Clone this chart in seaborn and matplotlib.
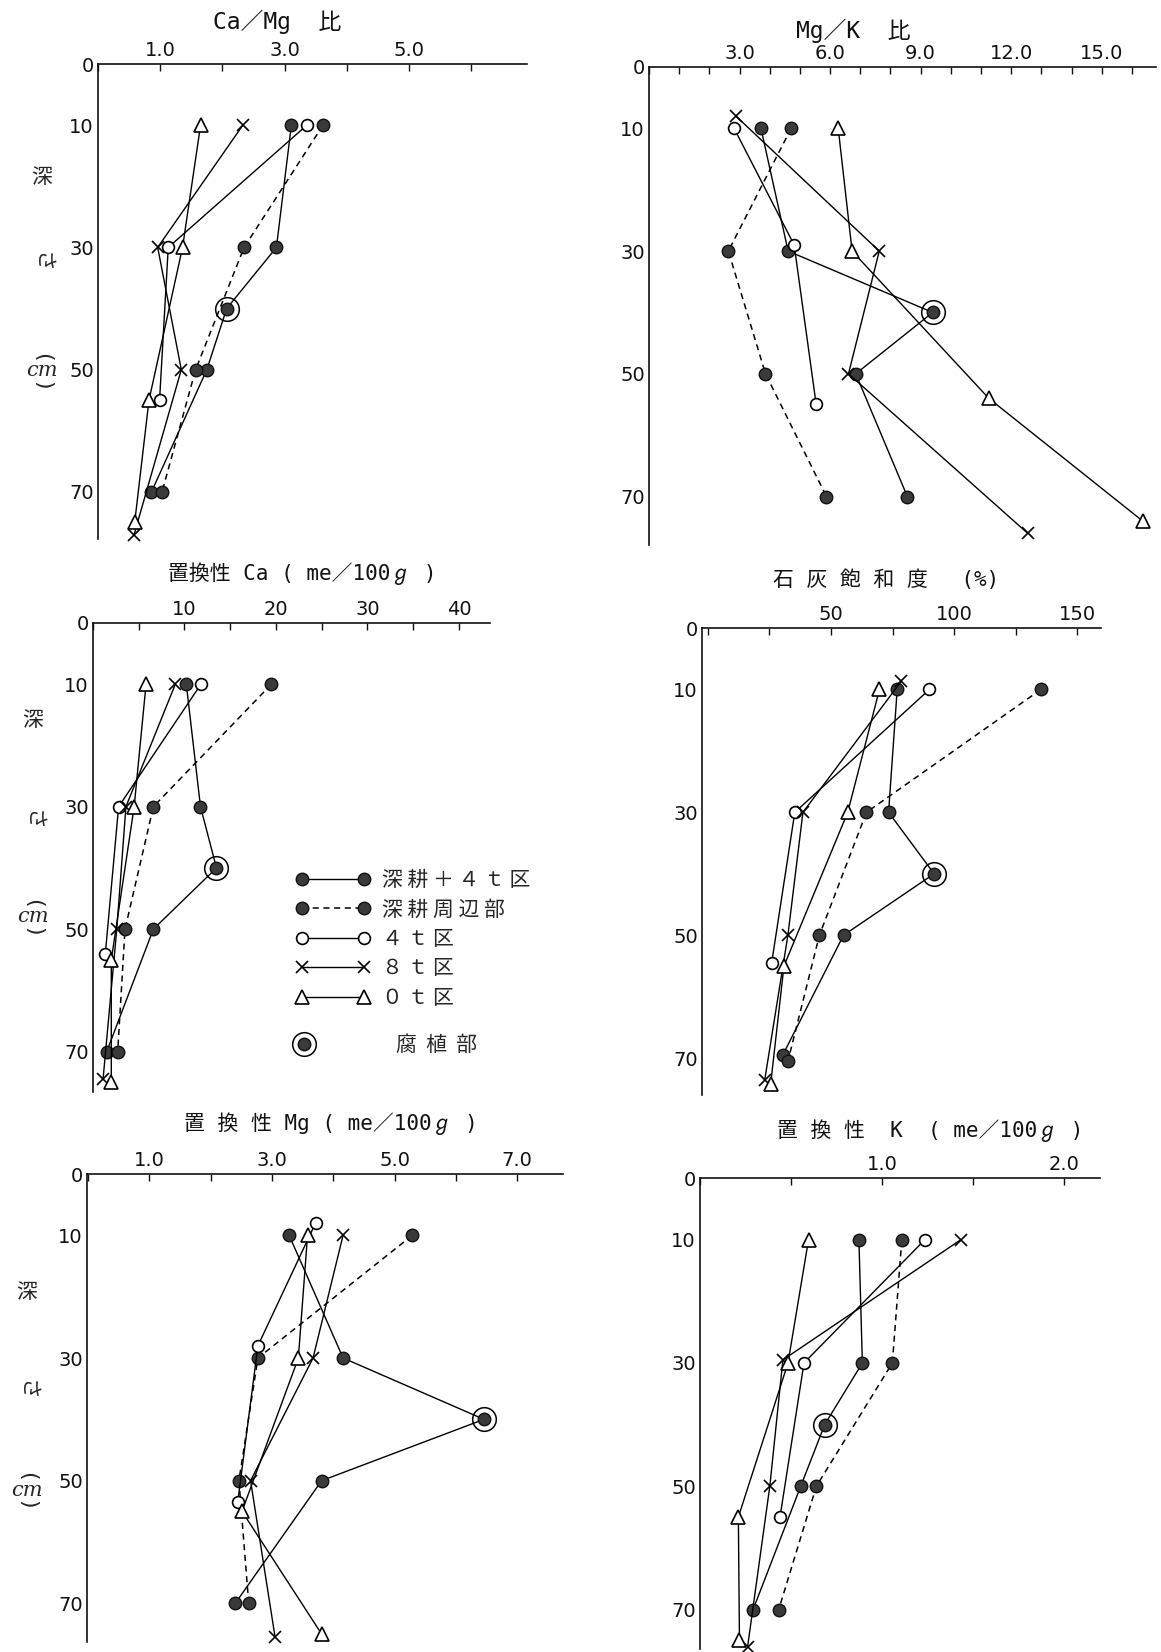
import matplotlib.pyplot as plt
import seaborn as sns
from matplotlib.lines import Line2D
from matplotlib.legend_handler import HandlerTuple

sns.set_style('white')
plt.rcParams['font.family'] = ['DejaVu Sans', 'Noto Sans CJK JP']
JP = ['Noto Sans CJK JP', 'DejaVu Sans']
TFONT = ['DejaVu Sans Mono', 'Noto Sans CJK JP', 'DejaVu Sans']

# sampling depth (cm); 40 cm of the deep-tilled plot is the humus layer
depth_deep = [10, 30, 40, 50, 70]
depth_edge = [10, 30, 50, 70]
depth_4t = [10, 30, 55]
depth_8t = [10, 30, 50, 77]
depth_0t = [10, 30, 55, 75]

# Ca/Mg ratio
camg_deep = [3.11, 2.87, 2.07, 1.75, 0.86]
camg_edge = [3.62, 2.35, 1.57, 1.03]
camg_4t = [3.36, 1.13, 0.99]
camg_8t = [2.33, 0.96, 1.34, 0.58]
camg_0t = [1.65, 1.36, 0.82, 0.59]

# Mg/K ratio
mgk_deep = [3.71, 4.61, 9.40, 6.85, 8.56]
mgk_edge = [4.71, 2.63, 3.86, 5.88]
mgk_4t = [2.82, 4.81, 5.54]
mgk_8t = [2.88, 7.63, 6.61, 12.55]
mgk_0t = [6.27, 6.73, 11.26, 16.36]
mgk_depth_4t = [10, 29, 55]
mgk_depth_8t = [8, 30, 50, 76]
mgk_depth_0t = [10, 30, 54, 74]

# exchangeable Ca (me/100g)
ca_deep = [10.2, 11.75, 13.5, 6.6, 1.5]
ca_edge = [19.5, 6.6, 3.5, 2.7]
ca_4t = [11.8, 2.8, 1.35]
ca_8t = [9.0, 3.6, 2.6, 1.1]
ca_0t = [5.8, 4.5, 2.0, 2.0]
ca_depth_4t = [10, 30, 54]
ca_depth_8t = [10, 30, 50, 74.5]

# lime saturation (%)
lime_deep = [76.9, 73.4, 91.9, 55.1, 30.4]
lime_edge = [135.3, 64.4, 45.3, 32.5]
lime_4t = [90.0, 35.3, 25.9]
lime_8t = [78.5, 38.6, 32.5, 23.1]
lime_0t = [69.7, 56.8, 30.9, 25.5]
lime_depth_deep = [10, 30, 40, 50, 69.5]
lime_depth_edge = [10, 30, 50, 70.5]
lime_depth_4t = [10, 30, 54.5]
lime_depth_8t = [8.7, 30, 50, 73.5]
lime_depth_0t = [10, 30, 55, 74.2]

# exchangeable Mg (me/100g)
mg_deep = [3.28, 4.16, 6.46, 3.81, 2.40]
mg_edge = [5.29, 2.77, 2.46, 2.62]
mg_4t = [3.71, 2.77, 2.44]
mg_8t = [4.16, 3.67, 2.65, 3.05]
mg_0t = [3.58, 3.43, 2.51, 3.81]
mg_depth_4t = [8, 28, 53.5]
mg_depth_8t = [10, 30, 50, 75.5]

# exchangeable K (me/100g)
k_deep = [0.874, 0.893, 0.686, 0.554, 0.292]
k_edge = [1.11, 1.058, 0.64, 0.433]
k_4t = [1.237, 0.572, 0.44]
k_8t = [1.435, 0.456, 0.384, 0.262]
k_0t = [0.597, 0.484, 0.211, 0.217]
k_depth_8t = [10, 29.5, 50, 76]

legend_labels = ['深 耕 ＋ ４ ｔ 区', '深 耕 周 辺 部', '４ ｔ 区', '８ ｔ 区', '０ ｔ 区']
humus_label = '腐  植  部'

STYLE = {
    'deep': dict(linewidth=1.0, marker='o', ms=9, mfc='#3a3a3a', mec='#111111', mew=1.0),
    'edge': dict(linewidth=1.1, linestyle=(0, (4, 3)), marker='o', ms=9, mfc='#3a3a3a', mec='#111111', mew=1.0),
    '4t': dict(linewidth=1.0, marker='o', ms=8.5, mfc='white', mec='black', mew=1.2),
    '8t': dict(linewidth=1.0, marker='x', ms=9, mec='black', mew=1.2),
    '0t': dict(linewidth=1.0, marker='^', ms=10, mfc='white', mec='black', mew=1.2),
}

W, H = 1161, 1652
fig = plt.figure(figsize=(W / 100, H / 100), dpi=100)


def make_axes(left, top, right, bottom):
    return fig.add_axes([left / W, 1 - bottom / H, (right - left) / W, (bottom - top) / H])


def draw_panel(ax, series, xlim, ybottom, xticks, xlabels):
    for kind, x, y in series:
        sns.lineplot(x=x, y=y, sort=False, estimator=None, ax=ax, color='black',
                     clip_on=False, **STYLE[kind])
    # humus layer ring around the 40 cm point of the deep-tilled plot
    deep_x = series[0][1]
    sns.lineplot(x=[deep_x[2]], y=[40], ax=ax, estimator=None, color='black', linestyle='',
                 marker='o', ms=17, mfc='none', mec='black', mew=1.1, clip_on=False)
    ax.set_xlim(*xlim)
    ax.set_ylim(ybottom, 0)
    ax.xaxis.tick_top()
    ax.set_xticks(xticks, xlabels)
    ax.set_yticks(range(0, 80, 10), ['0', '10', '', '30', '', '50', '', '70'])
    ax.tick_params(direction='in', length=5, width=1.0, labelsize=14, pad=3, colors='#111111')
    ax.set_xlabel('')
    ax.set_ylabel('')
    for s in ['right', 'bottom']:
        ax.spines[s].set_visible(False)
    for s in ['top', 'left']:
        ax.spines[s].set_linewidth(1.2)
        ax.spines[s].set_color('#111111')


def odd_labels(ticks, labeled, fmt):
    return [fmt.format(t) if t in labeled else '' for t in ticks]


# panel 1: Ca/Mg
ax1 = make_axes(98, 64, 527, 539)
t1 = [0, 1, 2, 3, 4, 5, 6]
draw_panel(ax1, [('deep', camg_deep, depth_deep), ('edge', camg_edge, depth_edge),
                 ('4t', camg_4t, depth_4t), ('8t', camg_8t, depth_8t), ('0t', camg_0t, depth_0t)],
           (0, 6.9), 77.7, t1, odd_labels(t1, [1, 3, 5], '{:.1f}'))

# panel 2: Mg/K
ax2 = make_axes(649, 67, 1156, 545)
t2 = list(range(0, 17))
draw_panel(ax2, [('deep', mgk_deep, depth_deep), ('edge', mgk_edge, depth_edge),
                 ('4t', mgk_4t, mgk_depth_4t), ('8t', mgk_8t, mgk_depth_8t), ('0t', mgk_0t, mgk_depth_0t)],
           (0, 16.8), 77.9, t2, odd_labels(t2, [3, 6, 9, 12, 15], '{:.1f}'))

# panel 3: exchangeable Ca
ax3 = make_axes(93, 623, 490, 1092)
t3 = list(range(0, 45, 5))
draw_panel(ax3, [('deep', ca_deep, depth_deep), ('edge', ca_edge, depth_edge),
                 ('4t', ca_4t, ca_depth_4t), ('8t', ca_8t, ca_depth_8t), ('0t', ca_0t, depth_0t)],
           (0, 43.4), 76.6, t3, odd_labels(t3, [10, 20, 30, 40], '{}'))

# panel 4: lime saturation
ax4 = make_axes(702, 628, 1101, 1095)
t4 = [0, 25, 50, 75, 100, 125, 150]
draw_panel(ax4, [('deep', lime_deep, lime_depth_deep), ('edge', lime_edge, lime_depth_edge),
                 ('4t', lime_4t, lime_depth_4t), ('8t', lime_8t, lime_depth_8t), ('0t', lime_0t, lime_depth_0t)],
           (-2.4, 159.7), 76.0, t4, odd_labels(t4, [50, 100, 150], '{}'))

# panel 5: exchangeable Mg
ax5 = make_axes(87, 1174, 563, 1642)
t5 = [0, 1, 2, 3, 4, 5, 6, 7]
draw_panel(ax5, [('deep', mg_deep, depth_deep), ('edge', mg_edge, depth_edge),
                 ('4t', mg_4t, mg_depth_4t), ('8t', mg_8t, mg_depth_8t), ('0t', mg_0t, depth_0t)],
           (-0.02, 7.75), 76.3, t5, odd_labels(t5, [1, 3, 5, 7], '{:.1f}'))

# panel 6: exchangeable K
ax6 = make_axes(700, 1178, 1100, 1649)
t6 = [0, 0.5, 1.0, 1.5, 2.0]
draw_panel(ax6, [('deep', k_deep, depth_deep), ('edge', k_edge, depth_edge),
                 ('4t', k_4t, depth_4t), ('8t', k_8t, k_depth_8t), ('0t', k_0t, depth_0t)],
           (0.02, 2.2), 76.4, t6, odd_labels(t6, [1.0, 2.0], '{:.1f}'))

# titles
titles = [('Ca／Mg  比', 277, 22, 16.5), ('Mg／K  比', 853, 31, 16.5),
          ('置換性 Ca ( me／100ℊ )', 302, 574, 15), ('石 灰 飽 和 度　 (%)', 886, 580, 15),
          ('置 換 性 Mg ( me／100ℊ )', 331, 1124, 15), ('置 換 性  K  ( me／100ℊ )', 930, 1131, 15)]
for txt, x, y, fs in titles:
    fig.text(x / W, 1 - y / H, txt, ha='center', va='center', fontsize=fs, family=TFONT, color='#111111')

# depth labels on the left column
for (x, y1, y2, y3) in [(42, 177, 262, 371), (33, 720, 820, 917), (27, 1292, 1390, 1490)]:
    fig.text(x / W, 1 - y1 / H, '深', ha='center', va='center', fontsize=15, family=JP)
    fig.text(x / W, 1 - y2 / H, 'さ', ha='center', va='center', fontsize=15, family=JP, rotation=-90)
    fig.text(x / W, 1 - y3 / H, 'cm', ha='center', va='center', fontsize=15, family='DejaVu Serif', style='italic')
    fig.text(x / W, 1 - (y3 - 14) / H, '(', ha='center', va='center', fontsize=16, rotation=-90)
    fig.text(x / W, 1 - (y3 + 14) / H, ')', ha='center', va='center', fontsize=16, rotation=-90)

# legend
handles = []
for kind in ['deep', 'edge', '4t', '8t', '0t']:
    handles.append(Line2D([], [], color='black', **STYLE[kind]))
leg = ax3.legend(handles, legend_labels, loc='upper left', bbox_to_anchor=(296 / W, 1 - 869 / H),
                 bbox_transform=fig.transFigure, frameon=False, numpoints=2, handlelength=3.55,
                 handletextpad=0.6, labelspacing=0.36, borderpad=0, borderaxespad=0,
                 prop={'family': JP, 'size': 15})
ax3.add_artist(leg)
ring = Line2D([], [], linestyle='', marker='o', ms=17, mfc='none', mec='black', mew=1.1)
dot = Line2D([], [], linestyle='', marker='o', ms=9, mfc='#3a3a3a', mec='#111111', mew=1.0)
ax3.legend([(ring, dot)], [humus_label], loc='upper left', bbox_to_anchor=(283 / W, 1 - 1034 / H),
           bbox_transform=fig.transFigure, frameon=False, numpoints=1, handlelength=2.0,
           handletextpad=3.4, borderpad=0, borderaxespad=0,
           handler_map={tuple: HandlerTuple(ndivide=1)},
           prop={'family': JP, 'size': 15})

fig.savefig('out.png', dpi=100, facecolor='white')
